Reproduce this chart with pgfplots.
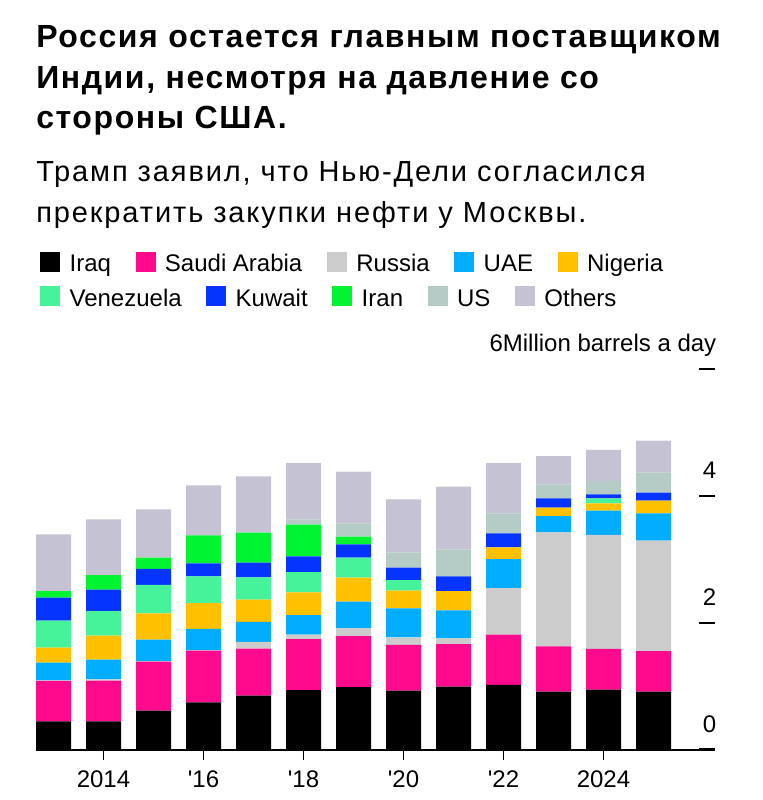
\documentclass[border=0pt]{standalone}
\usepackage{fontspec}
\setmainfont{Liberation Sans}
\usepackage{pgfplots}
\usepackage{pgfplotstable}
\pgfplotsset{compat=1.18}

\definecolor{cIraq}{HTML}{000000}
\definecolor{cSaudi}{HTML}{FF0A8C}
\definecolor{cRussia}{HTML}{CCCCCC}
\definecolor{cUAE}{HTML}{00ADFF}
\definecolor{cNigeria}{HTML}{FFC000}
\definecolor{cVen}{HTML}{46F29A}
\definecolor{cKuwait}{HTML}{0534FF}
\definecolor{cIran}{HTML}{00F432}
\definecolor{cUS}{HTML}{B5CBC6}
\definecolor{cOthers}{HTML}{C5C3D3}

\pgfplotstableread{
year iraq saudi russia uae nigeria venezuela kuwait iran us others
2013 0.444 0.635 0.010 0.278 0.237 0.425 0.362 0.105 0.000 0.893
2014 0.444 0.640 0.020 0.311 0.378 0.388 0.336 0.231 0.000 0.877
2015 0.612 0.771 0.010 0.337 0.414 0.447 0.252 0.178 0.000 0.761
2016 0.743 0.813 0.010 0.332 0.409 0.420 0.205 0.441 0.000 0.787
2017 0.848 0.740 0.105 0.315 0.351 0.352 0.231 0.473 0.000 0.887
2018 0.937 0.803 0.068 0.310 0.357 0.320 0.247 0.499 0.084 0.887
2019 0.984 0.803 0.126 0.415 0.378 0.315 0.210 0.121 0.210 0.813
2020 0.927 0.719 0.121 0.456 0.278 0.168 0.195 0.000 0.241 0.835
2021 0.990 0.671 0.090 0.441 0.304 0.000 0.231 0.000 0.420 0.992
2022 1.016 0.792 0.735 0.457 0.184 0.000 0.220 0.000 0.315 0.793
2023 0.911 0.714 1.795 0.257 0.131 0.000 0.148 0.000 0.220 0.446
2024 0.942 0.641 1.795 0.383 0.116 0.079 0.063 0.000 0.209 0.489
2025 0.911 0.640 1.737 0.432 0.198 0.000 0.126 0.000 0.315 0.504
}\imports

\newcommand{\chartfont}{\fontsize{18pt}{21.6pt}\selectfont}
\newcommand{\titlefont}{\fontsize{24pt}{28pt}\selectfont\bfseries\addfontfeature{LetterSpace=5}}
\newcommand{\subfont}{\fontsize{21.75pt}{26pt}\selectfont\addfontfeature{LetterSpace=6.5}}

\begin{document}
\begin{tikzpicture}
\path[use as bounding box] (0,0) rectangle (572.25pt,600pt);

% title and subtitle
\node[anchor=base west, inner sep=0pt, font=\titlefont] at (27pt,564.5pt) {Россия остается главным поставщиком};
\node[anchor=base west, inner sep=0pt, font=\titlefont] at (27pt,533.8pt) {Индии, несмотря на давление со};
\node[anchor=base west, inner sep=0pt, font=\titlefont] at (27pt,503.8pt) {стороны США.};
\node[anchor=base west, inner sep=0pt, font=\subfont] at (27pt,463.5pt) {Трамп заявил, что Нью-Дели согласился};
\node[anchor=base west, inner sep=0pt, font=\subfont] at (27pt,432.75pt) {прекратить закупки нефти у Москвы.};

% bars
\begin{axis}[
  at={(27pt,37.875pt)}, anchor=south west,
  scale only axis, width=509.25pt, height=285.75pt,
  xmin=2012.65, xmax=2026.23, ymin=0, ymax=6,
  ybar stacked, bar width=0.7,
  axis x line*=bottom, hide y axis,
  x axis line style={line width=1.5pt, black},
  xtick={2014,2016,2018,2020,2022,2024},
  xticklabels={2014,\textquotesingle16,\textquotesingle18,\textquotesingle20,\textquotesingle22,2024},
  tick align=outside, major tick length=7.5pt,
  xtick style={line width=1.25pt, black},
  xticklabel style={font=\chartfont, yshift=-5pt},
  legend columns=5,
  legend image code/.code={\fill[#1] (0pt,0pt) rectangle (15pt,15pt);},
  legend style={at={(0.0059,1.3066)}, anchor=north west, draw=none, fill=none,
    inner sep=0pt, font=\chartfont, nodes={inner sep=0pt}, cells={anchor=base west},
    /tikz/every odd column/.append style={column sep=7pt},
    /tikz/every even column/.append style={column sep=18.5pt}},
]
\addplot[fill=cIraq, draw=none] table[x=year,y=iraq]{\imports};
\addlegendentry{Iraq}
\addplot[fill=cSaudi, draw=none] table[x=year,y=saudi]{\imports};
\addlegendentry{Saudi Arabia}
\addplot[fill=cRussia, draw=none] table[x=year,y=russia]{\imports};
\addlegendentry{Russia}
\addplot[fill=cUAE, draw=none] table[x=year,y=uae]{\imports};
\addlegendentry{UAE}
\addplot[fill=cNigeria, draw=none] table[x=year,y=nigeria]{\imports};
\addlegendentry{Nigeria}
\addplot[fill=cVen, draw=none] table[x=year,y=venezuela]{\imports};
\addplot[fill=cKuwait, draw=none] table[x=year,y=kuwait]{\imports};
\addplot[fill=cIran, draw=none] table[x=year,y=iran]{\imports};
\addplot[fill=cUS, draw=none] table[x=year,y=us]{\imports};
\addplot[fill=cOthers, draw=none] table[x=year,y=others]{\imports};
\end{axis}

% y ticks and second legend row
\begin{axis}[
  at={(27pt,37.875pt)}, anchor=south west,
  scale only axis, width=509.25pt, height=285.75pt,
  xmin=2012.65, xmax=2026.23, ymin=0, ymax=6,
  hide x axis,
  axis y line*=right,
  y axis line style={draw=none},
  ytick={0,2,4,6},
  yticklabels={0,2,4,6Million barrels a day},
  tick align=inside, major tick length=12pt,
  ytick style={line width=1.5pt, black},
  yticklabel style={anchor=base east, xshift=4.5pt, yshift=13pt, font=\chartfont},
  legend columns=5,
  legend image code/.code={\fill[#1] (0pt,0pt) rectangle (15pt,15pt);},
  legend style={at={(0.0059,1.2165)}, anchor=north west, draw=none, fill=none,
    inner sep=0pt, font=\chartfont, nodes={inner sep=0pt}, cells={anchor=base west},
    /tikz/every odd column/.append style={column sep=7pt},
    /tikz/every even column/.append style={column sep=18.5pt}},
]
\addlegendimage{fill=cVen, draw=none}
\addlegendentry{Venezuela}
\addlegendimage{fill=cKuwait, draw=none}
\addlegendentry{Kuwait}
\addlegendimage{fill=cIran, draw=none}
\addlegendentry{Iran}
\addlegendimage{fill=cUS, draw=none}
\addlegendentry{US}
\addlegendimage{fill=cOthers, draw=none}
\addlegendentry{Others}
\end{axis}
\end{tikzpicture}
\end{document}
